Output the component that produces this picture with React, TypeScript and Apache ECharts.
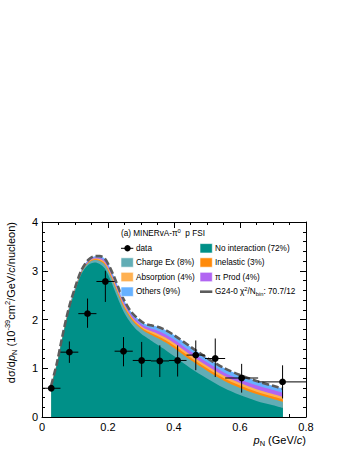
import React, { useEffect, useRef } from "react";
import * as echarts from "echarts";

// model curve sampling points (GeV/c)
const curveX = [0.028, 0.045, 0.06, 0.08, 0.1, 0.12, 0.14, 0.16, 0.175, 0.19, 0.205, 0.22, 0.235, 0.25, 0.27, 0.29, 0.31, 0.33, 0.35, 0.375, 0.4, 0.45, 0.5, 0.55, 0.6, 0.65, 0.7, 0.73];
const noInteraction = [0.63, 1.07, 1.56, 2.15, 2.58, 2.94, 3.12, 3.17, 3.14, 3.05, 2.85, 2.6, 2.35, 2.13, 1.92, 1.77, 1.66, 1.57, 1.48, 1.37, 1.25, 1.0, 0.79, 0.6, 0.45, 0.33, 0.24, 0.185];
const chargeEx = [0.01, 0.012, 0.015, 0.02, 0.027, 0.03, 0.038, 0.05, 0.06, 0.076, 0.087, 0.095, 0.095, 0.095, 0.091, 0.095, 0.099, 0.118, 0.14, 0.156, 0.163, 0.167, 0.16, 0.15, 0.145, 0.14, 0.13, 0.125];
const inelastic = [0.003, 0.004, 0.005, 0.006, 0.008, 0.01, 0.012, 0.016, 0.02, 0.024, 0.028, 0.03, 0.03, 0.03, 0.029, 0.03, 0.031, 0.037, 0.044, 0.049, 0.052, 0.053, 0.05, 0.05, 0.05, 0.05, 0.05, 0.05];
const absorption = [0.003, 0.004, 0.005, 0.006, 0.008, 0.01, 0.012, 0.016, 0.02, 0.024, 0.028, 0.03, 0.03, 0.03, 0.029, 0.03, 0.031, 0.037, 0.044, 0.049, 0.052, 0.053, 0.05, 0.05, 0.05, 0.05, 0.05, 0.05];
const piProd = [0.002, 0.005, 0.007, 0.008, 0.012, 0.014, 0.017, 0.022, 0.027, 0.034, 0.039, 0.043, 0.043, 0.043, 0.041, 0.043, 0.044, 0.053, 0.063, 0.07, 0.073, 0.075, 0.071, 0.07, 0.075, 0.08, 0.085, 0.09];
const others = [0.002, 0.005, 0.008, 0.01, 0.015, 0.016, 0.021, 0.026, 0.033, 0.042, 0.048, 0.052, 0.052, 0.052, 0.05, 0.052, 0.055, 0.065, 0.079, 0.086, 0.09, 0.092, 0.089, 0.09, 0.09, 0.09, 0.085, 0.08];

// MINERvA data
const dataX = [0.028, 0.083, 0.138, 0.192, 0.247, 0.302, 0.357, 0.411, 0.466, 0.525, 0.605, 0.729];
const dataY = [0.59, 1.33, 2.12, 2.78, 1.35, 1.16, 1.15, 1.16, 1.27, 1.2, 0.8, 0.72];
const dataYLow = [0.54, 1.11, 1.83, 2.36, 1.04, 0.82, 0.82, 0.83, 0.96, 0.82, 0.5, 0.38];
const dataYHigh = [0.64, 1.55, 2.43, 3.0, 1.64, 1.54, 1.47, 1.47, 1.57, 1.61, 1.09, 1.06];
const binLow = [0, 0.056, 0.11, 0.165, 0.22, 0.275, 0.33, 0.385, 0.438, 0.494, 0.555, 0.655];
const binHigh = [0.056, 0.11, 0.165, 0.22, 0.275, 0.33, 0.385, 0.438, 0.494, 0.555, 0.655, 0.8];

const xTicks = { min: 0, max: 0.8, interval: 0.2 };
const yTicks = { min: 0, max: 4, interval: 1 };

const FONT = "'Liberation Sans', Arial, Helvetica, sans-serif";

const COLORS = {
  noInt: "#009088",
  chex: "#62adb5",
  abs: "#ffb152",
  inel: "#ff8a0a",
  pi: "#b165f2",
  oth: "#66b1ff",
  model: "#5c5c5c",
};

export default function App() {
  const ref = useRef<HTMLDivElement>(null);

  useEffect(() => {
    if (!ref.current) return;
    const chart = echarts.init(ref.current, null, { renderer: "svg" });

    const L = 42;
    const R = 306;
    const T = 222;
    const B = 417;

    // components in stacking order (bottom -> top)
    const comps = [
      { name: "No interaction (72%)", vals: noInteraction, color: COLORS.noInt },
      { name: "Charge Ex (8%)", vals: chargeEx, color: COLORS.chex },
      { name: "Inelastic (3%)", vals: inelastic, color: COLORS.inel },
      { name: "Absorption (4%)", vals: absorption, color: COLORS.abs },
      { name: "π Prod (4%)", vals: piProd, color: COLORS.pi },
      { name: "Others (9%)", vals: others, color: COLORS.oth },
    ];
    // cumulative sums
    const cum: number[][] = [];
    comps.forEach((c, k) => {
      cum.push(c.vals.map((v, i) => v + (k > 0 ? cum[k - 1][i] : 0)));
    });

    // draw from top cumulative down, each filled to zero, later ones on top
    const areaSeries = comps
      .map((c, k) => ({
        name: c.name,
        type: "line",
        smooth: 0.3,
        showSymbol: false,
        symbol: "none",
        data: curveX.map((x, i) => [x, cum[k][i]]),
        lineStyle: { width: 0, color: c.color },
        itemStyle: { color: c.color },
        areaStyle: { color: c.color, opacity: 1, origin: "start" },
        z: 2,
      }))
      .reverse();

    const total = curveX.map((x, i) => [x, cum[comps.length - 1][i]]);

    const axisCommon = {
      axisLine: { show: true, onZero: false, lineStyle: { color: "#000", width: 1 } },
      axisTick: { show: true, inside: true, length: 6, lineStyle: { color: "#000" } },
      minorTick: { show: true, length: 3, lineStyle: { color: "#000" } },
      splitLine: { show: false },
      minorSplitLine: { show: false },
    };

    const lbl = { fontFamily: FONT, color: "#000" };

    const leftBoxX = 121;
    const rightBoxX = 200;
    const textL = 136;
    const textR = 215;
    const fs = 8.2;

    const box = (x: number, y: number, color: string) => ({
      type: "rect",
      shape: { x, y: y - 4.7, width: 12.3, height: 9.4 },
      style: { fill: color, stroke: "#ffffff", lineWidth: 0.6, opacity: 1 },
      z: 100,
    });
    const txt = (x: number, y: number, text: string) => ({
      type: "text",
      x,
      y,
      style: { text, fontSize: fs, fontFamily: FONT, fill: "#000", textVerticalAlign: "middle", textAlign: "left" },
      z: 100,
    });

    const r1 = 248.3;
    const r2 = 262.5;
    const r3 = 277;
    const r4 = 291.7;

    const option: any = {
      animation: false,
      backgroundColor: "#ffffff",
      grid: { left: L, right: 349 - R, top: T, bottom: 451 - B, containLabel: false, outerBoundsMode: "none" },
      xAxis: [
        {
          type: "value",
          position: "bottom",
          ...xTicks,
          ...axisCommon,
          minorTick: { ...axisCommon.minorTick, splitNumber: 4 },
          axisLabel: { ...lbl, fontSize: 11, margin: 4, formatter: (v: number) => String(Math.round(v * 10) / 10) },
        },
        {
          type: "value",
          position: "top",
          ...xTicks,
          ...axisCommon,
          minorTick: { ...axisCommon.minorTick, splitNumber: 4 },
          axisLabel: { show: false },
        },
      ],
      yAxis: [
        {
          type: "value",
          position: "left",
          ...yTicks,
          ...axisCommon,
          minorTick: { ...axisCommon.minorTick, splitNumber: 5 },
          axisLabel: { ...lbl, fontSize: 11, margin: 4 },
        },
        {
          type: "value",
          position: "right",
          ...yTicks,
          ...axisCommon,
          minorTick: { ...axisCommon.minorTick, splitNumber: 5 },
          axisLabel: { show: false },
        },
      ],
      series: [
        ...areaSeries,
        {
          name: "G24-0",
          type: "line",
          smooth: 0.3,
          showSymbol: false,
          symbol: "none",
          data: total,
          lineStyle: { width: 2.6, color: COLORS.model, type: [7, 3] },
          z: 5,
        },
        {
          name: "data",
          type: "custom",
          xAxisIndex: 0,
          yAxisIndex: 0,
          data: dataX.map((x, i) => [x, dataY[i], binLow[i], binHigh[i], dataYLow[i], dataYHigh[i]]),
          encode: { x: 0, y: 1 },
          clip: false,
          z: 10,
          renderItem: (params: any, api: any) => {
            const x = api.value(0);
            const y = api.value(1);
            const c = api.coord([x, y]);
            const pl = api.coord([api.value(2), y]);
            const ph = api.coord([api.value(3), y]);
            const vl = api.coord([x, api.value(4)]);
            const vh = api.coord([x, api.value(5)]);
            const ls = { stroke: "#000", lineWidth: 1 };
            return {
              type: "group",
              children: [
                { type: "line", shape: { x1: pl[0], y1: c[1], x2: ph[0], y2: c[1] }, style: ls },
                { type: "line", shape: { x1: c[0], y1: vl[1], x2: c[0], y2: vh[1] }, style: ls },
                { type: "circle", shape: { cx: c[0], cy: c[1], r: 3.4 }, style: { fill: "#000" } },
              ],
            };
          },
        },
      ],
      graphic: [
        // y-axis title
        {
          type: "text",
          x: 11,
          y: 222,
          rotation: Math.PI / 2,
          style: {
            text: "{a|dσ/d}{ai|p}{sub|N}{a| (10}{sup|-39}{a|cm}{sup|2}{a|/GeV/}{ai|c}{a|/nucleon)}",
            textAlign: "right",
            textVerticalAlign: "middle",
            fontFamily: FONT,
            rich: {
              a: { fontSize: 11, fontFamily: FONT, fill: "#000", lineHeight: 15 },
              ai: { fontSize: 11, fontFamily: FONT, fontStyle: "italic", fill: "#000", lineHeight: 15 },
              sub: { fontSize: 7.5, fontFamily: FONT, fill: "#000", verticalAlign: "bottom" },
              sup: { fontSize: 7.5, fontFamily: FONT, fill: "#000", verticalAlign: "top" },
            },
          },
        },
        // x-axis title
        {
          type: "text",
          x: 306,
          y: 440,
          style: {
            text: "{ai|p}{sub|N}{a| (GeV/}{ai|c}{a|)}",
            textAlign: "right",
            textVerticalAlign: "middle",
            fontFamily: FONT,
            rich: {
              a: { fontSize: 11, fontFamily: FONT, fill: "#000", lineHeight: 15 },
              ai: { fontSize: 11, fontFamily: FONT, fontStyle: "italic", fill: "#000", lineHeight: 15 },
              sub: { fontSize: 7.5, fontFamily: FONT, fill: "#000", verticalAlign: "bottom" },
            },
          },
        },
        // legend title
        {
          type: "text",
          x: 121,
          y: 233.3,
          z: 100,
          style: {
            text: "{a|(a) MINERvA-π}{sup|0}{a|  p FSI}",
            textAlign: "left",
            textVerticalAlign: "middle",
            fontFamily: FONT,
            rich: {
              a: { fontSize: fs, fontFamily: FONT, fill: "#000", lineHeight: 11 },
              sup: { fontSize: 5.8, fontFamily: FONT, fill: "#000", verticalAlign: "top" },
            },
          },
        },
        // data marker
        { type: "line", shape: { x1: leftBoxX, y1: r1, x2: leftBoxX + 12.3, y2: r1 }, style: { stroke: "#000", lineWidth: 1 }, z: 100 },
        { type: "circle", shape: { cx: leftBoxX + 6.5, cy: r1, r: 3.2 }, style: { fill: "#000" }, z: 100 },
        txt(textL, r1, "data"),
        box(rightBoxX, r1, COLORS.noInt),
        txt(textR, r1, "No interaction (72%)"),
        box(leftBoxX, r2, COLORS.chex),
        txt(textL, r2, "Charge Ex (8%)"),
        box(rightBoxX, r2, COLORS.inel),
        txt(textR, r2, "Inelastic (3%)"),
        box(leftBoxX, r3, COLORS.abs),
        txt(textL, r3, "Absorption (4%)"),
        box(rightBoxX, r3, COLORS.pi),
        txt(textR, r3, "π Prod (4%)"),
        box(leftBoxX, r4, COLORS.oth),
        txt(textL, r4, "Others (9%)"),
        { type: "line", shape: { x1: rightBoxX, y1: r4, x2: rightBoxX + 12.3, y2: r4 }, style: { stroke: COLORS.model, lineWidth: 2.6 }, z: 100 },
        {
          type: "text",
          x: textR,
          y: r4,
          z: 100,
          style: {
            text: "{a|G24-0 χ}{sup|2}{a|/N}{sub|bin}{a|: 70.7/12}",
            textAlign: "left",
            textVerticalAlign: "middle",
            fontFamily: FONT,
            rich: {
              a: { fontSize: fs, fontFamily: FONT, fill: "#000", lineHeight: 11 },
              sup: { fontSize: 5.8, fontFamily: FONT, fill: "#000", verticalAlign: "top" },
              sub: { fontSize: 5.8, fontFamily: FONT, fill: "#000", verticalAlign: "bottom" },
            },
          },
        },
      ],
    };

    chart.setOption(option);
    return () => chart.dispose();
  }, []);

  return (
    <div
      ref={ref}
      style={{ position: "fixed", left: 0, top: 0, width: 349, height: 451, background: "#fff" }}
    />
  );
}
